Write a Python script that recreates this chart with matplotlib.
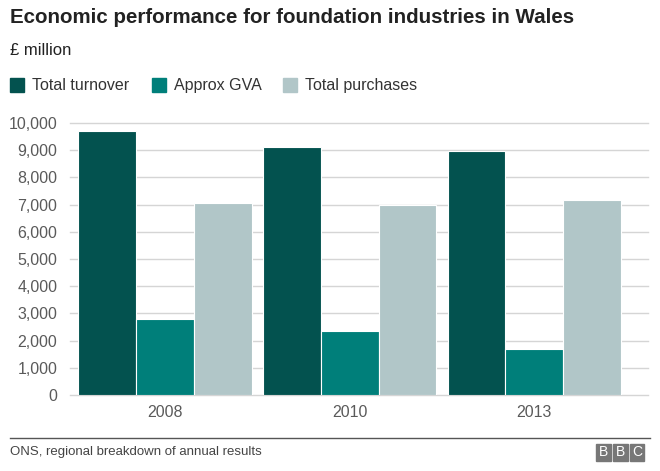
import numpy as np
import matplotlib.pyplot as plt
from matplotlib.patches import Rectangle

plt.rcParams['font.family'] = ['Liberation Sans', 'DejaVu Sans']

years = ['2008', '2010', '2013']
series = ['Total turnover', 'Approx GVA', 'Total purchases']
turnover = [9720, 9120, 8950]
gva = [2780, 2350, 1700]
purchases = [7050, 7000, 7150]
colors = ['#03524f', '#007f7a', '#b1c6c8']
yticks = [0, 1000, 2000, 3000, 4000, 5000, 6000, 7000, 8000, 9000, 10000]

fig = plt.figure(figsize=(6.6, 4.71), dpi=100)
ax = fig.add_axes([0.106, 0.1614, 0.876, 0.5776])

x = np.arange(len(years))
w = 0.313
for i, (vals, c) in enumerate(zip([turnover, gva, purchases], colors)):
    ax.bar(x + (i - 1) * w, vals, w, color=c, edgecolor='white', linewidth=0.8, zorder=3)

ax.set_ylim(0, 10000)
ax.set_xlim(-0.514, 2.616)
ax.set_yticks(yticks)
ax.set_yticklabels([f'{v:,}' for v in yticks])
ax.set_xticks(x)
ax.set_xticklabels(years)
ax.grid(axis='y', color='#d5d5d5', linewidth=1, zorder=0, clip_on=False)
for s in ax.spines.values():
    s.set_visible(False)
ax.tick_params(length=0, labelsize=11.5, colors='#5a5a5a', pad=9)
ax.tick_params(axis='x', pad=7)

fig.text(0.015, 0.962, 'Economic performance for foundation industries in Wales',
         fontsize=14.8, fontweight='bold', color='#222222', va='center')
fig.text(0.015, 0.893, '£ million', fontsize=12, color='#222222', va='center')

leg_x = [0.015, 0.230, 0.429]
for lx, name, c in zip(leg_x, series, colors):
    fig.patches.append(Rectangle((lx, 0.804), 0.021, 0.030, transform=fig.transFigure,
                                 color=c))
    fig.text(lx + 0.033, 0.818, name, fontsize=11.5, color='#333333', va='center')

fig.add_artist(plt.Line2D([0.015, 0.985], [0.070, 0.070], color='#555555', linewidth=1,
                          transform=fig.transFigure))
fig.text(0.015, 0.040, 'ONS, regional breakdown of annual results', fontsize=9.5,
         color='#444444', va='center')
for k, letter in enumerate('BBC'):
    bx = 0.903 + k * 0.0255
    fig.patches.append(Rectangle((bx, 0.022), 0.0225, 0.036, transform=fig.transFigure,
                                 color='#777777'))
    fig.text(bx + 0.0112, 0.040, letter, fontsize=10, color='white',
             ha='center', va='center')

fig.savefig('out.png', dpi=100)
